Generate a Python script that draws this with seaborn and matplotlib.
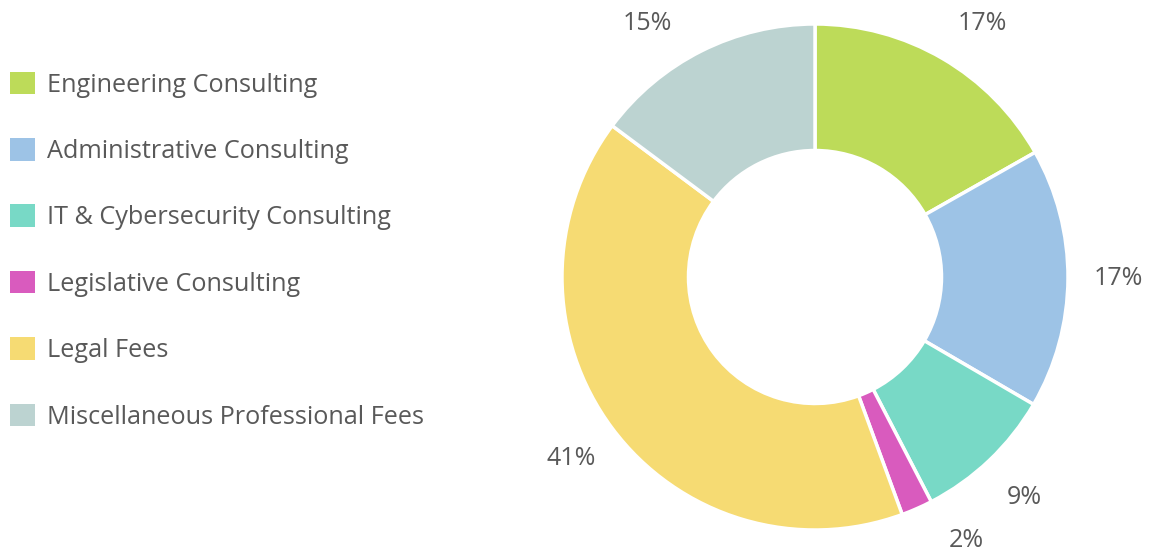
import matplotlib
matplotlib.use("Agg")
import numpy as np
import matplotlib.pyplot as plt
from matplotlib.patches import Patch
import seaborn as sns

categories = ["Engineering Consulting", "Administrative Consulting",
              "IT & Cybersecurity Consulting", "Legislative Consulting",
              "Legal Fees", "Miscellaneous Professional Fees"]
shares = [16.8, 16.6, 9.0, 2.0, 40.8, 14.8]
colors = ["#BDDB59", "#9DC3E6", "#78D9C6", "#D95BBE", "#F6DB73", "#BCD3D1"]

sns.set_style("white")
plt.rcParams["font.family"] = ["Open Sans", "DejaVu Sans"]
text_color = "#595959"

fig = plt.figure(figsize=(11.51, 5.54), dpi=100)
ax = fig.add_axes([562 / 1151, 24 / 554, 506 / 1151, 506 / 554])

wedges, texts, autotexts = ax.pie(
    shares, colors=colors, startangle=90, counterclock=False,
    autopct="%1.0f%%", pctdistance=1.2, radius=1,
    wedgeprops=dict(width=0.5, edgecolor="white", linewidth=2.5),
    textprops=dict(color=text_color, fontsize=18))

# keep outside labels on the 1.2 circle but inside the figure (Excel-like)
r = 1.2
for w, t in zip(wedges, autotexts):
    mid = np.deg2rad((w.theta1 + w.theta2) / 2)
    x, y = r * np.cos(mid), r * np.sin(mid)
    y_c = float(np.clip(y, -1.04, 1.0))
    if y_c != y:
        x = np.sign(x) * np.sqrt(r ** 2 - y_c ** 2)
    t.set_position((x, y_c))

ax.set_xlim(-1, 1)
ax.set_ylim(-1, 1)
ax.set_aspect("equal")
ax.axis("off")

handles = [Patch(facecolor=c, edgecolor="none") for c in colors]
fig.legend(handles, categories, loc="upper left",
           bbox_to_anchor=(0.0, 0.889), frameon=False,
           fontsize=18.2, labelcolor=text_color,
           handlelength=1.0, handleheight=1.0, handletextpad=0.47,
           labelspacing=1.6, borderaxespad=0.0, borderpad=0.4)

fig.savefig("out.png", dpi=100)
